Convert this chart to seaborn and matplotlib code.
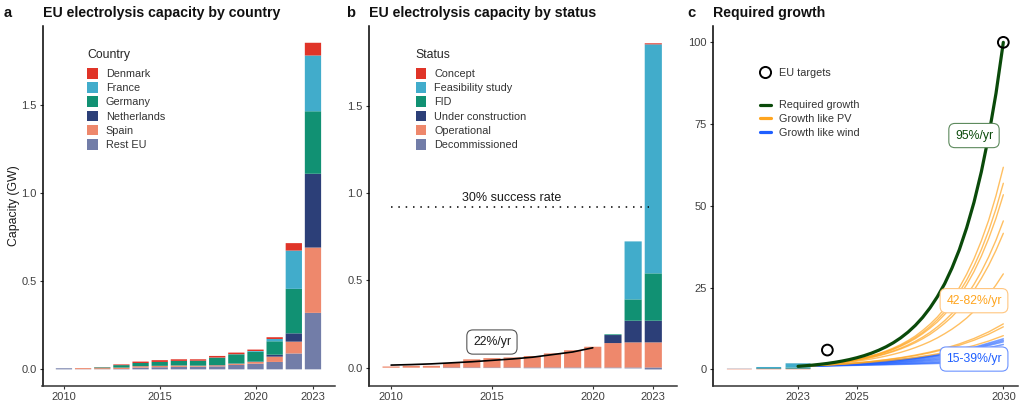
import matplotlib
matplotlib.use("Agg")
import matplotlib.pyplot as plt
import pandas as pd
import seaborn as sns
from matplotlib.lines import Line2D
from matplotlib.patches import Patch

years = list(range(2010, 2024))

# panel a, GW per year
denmark = [0, 0, 0.001, 0.004, 0.008, 0.01, 0.009, 0.008, 0.009, 0.009, 0.008, 0.01, 0.042, 0.072]
france = [0, 0, 0, 0, 0, 0, 0, 0, 0.001, 0.001, 0.004, 0.013, 0.217, 0.316]
germany = [0, 0, 0.004, 0.014, 0.018, 0.022, 0.026, 0.028, 0.042, 0.052, 0.056, 0.076, 0.252, 0.354]
netherlands = [0, 0, 0, 0, 0, 0, 0, 0, 0.001, 0.001, 0.002, 0.011, 0.047, 0.418]
spain = [0, 0.006, 0.006, 0.008, 0.008, 0.008, 0.008, 0.006, 0.006, 0.007, 0.01, 0.03, 0.067, 0.37]
rest_eu = [0.006, 0.001, 0.001, 0.002, 0.01, 0.012, 0.014, 0.015, 0.017, 0.025, 0.032, 0.042, 0.09, 0.32]

# panel b, GW per year
concept = [0, 0, 0, 0, 0, 0, 0, 0, 0, 0, 0, 0, 0, 0.006]
feasibility = [0, 0, 0, 0, 0, 0, 0, 0, 0, 0, 0, 0, 0.332, 1.311]
fid = [0, 0, 0, 0, 0, 0, 0, 0, 0, 0, 0, 0.004, 0.122, 0.271]
construction = [0, 0, 0, 0, 0, 0, 0, 0, 0, 0, 0, 0.046, 0.124, 0.124]
operational = [0.007, 0.011, 0.011, 0.027, 0.048, 0.055, 0.059, 0.067, 0.082, 0.1, 0.12, 0.141, 0.145, 0.145]
decommissioned = [0, 0, 0, -0.002, -0.002, -0.002, -0.002, -0.003, -0.003, -0.003, -0.003, -0.003, -0.004, -0.01]

fit_years = list(range(2010, 2021))
fit_values = [0.015, 0.018, 0.022, 0.028, 0.034, 0.042, 0.05, 0.06, 0.075, 0.09, 0.114]
success_years = [2010, 2022.8]
success_values = [0.922, 0.922]

# panel c
target_years = [2024, 2030]
target_values = [5.9, 100]
quarter_years = [2023 + i * 0.25 for i in range(29)]
half_years = [2023 + i * 0.5 for i in range(15)]
wind_years = list(range(2023, 2031))
required = [0.93, 1.1, 1.3, 1.54, 1.81, 2.14, 2.53, 2.99, 3.54, 4.18, 4.94, 5.84, 6.89, 8.14, 9.63, 11.38,
            13.45, 15.9, 18.8, 22.2, 26.2, 31.0, 36.6, 43.3, 51.1, 60.4, 71.4, 84.4, 100]
pv_fast = [
    [0.93, 1.08, 1.25, 1.45, 1.69, 1.96, 2.28, 2.65, 3.08, 3.57, 4.15, 4.82, 5.6, 6.51, 7.56, 8.78,
     10.2, 11.9, 13.8, 16.0, 18.6, 21.6, 25, 29.1, 33.8, 39.3, 45.6, 53.1, 61.8],
    [0.93, 1.08, 1.25, 1.45, 1.67, 1.94, 2.24, 2.6, 3.01, 3.49, 4.04, 4.68, 5.42, 6.28, 7.27, 8.42,
     9.76, 11.3, 13.1, 15.2, 17.6, 20.4, 23.6, 27.3, 31.6, 36.6, 42.4, 49.1, 56.9],
    [0.93, 1.07, 1.24, 1.43, 1.66, 1.92, 2.22, 2.56, 2.96, 3.42, 3.95, 4.56, 5.27, 6.09, 7.04, 8.14,
     9.4, 10.9, 12.6, 14.5, 16.8, 19.4, 22.4, 25.9, 29.9, 34.6, 40, 46.2, 53.4],
    [0.93, 1.07, 1.23, 1.41, 1.62, 1.86, 2.14, 2.46, 2.82, 3.24, 3.73, 4.28, 4.92, 5.65, 6.49, 7.46,
     8.57, 9.85, 11.3, 13.0, 14.9, 17.1, 19.7, 22.6, 26, 29.9, 34.4, 39.5, 45.4],
    [0.93, 1.07, 1.22, 1.4, 1.6, 1.83, 2.1, 2.41, 2.76, 3.16, 3.62, 4.15, 4.75, 5.44, 6.23, 7.14,
     8.17, 9.36, 10.7, 12.3, 14.1, 16.1, 18.5, 21.2, 24.2, 27.8, 31.8, 36.4, 41.6],
    [0.93, 1.05, 1.19, 1.35, 1.52, 1.72, 1.95, 2.2, 2.49, 2.82, 3.18, 3.6, 4.07, 4.6, 5.2, 5.88,
     6.66, 7.53, 8.5, 9.62, 10.9, 12.3, 13.9, 15.7, 17.8, 20.1, 22.8, 25.8, 29.2],
]
pv_slow = [
    [0.93, 1.13, 1.37, 1.66, 2.01, 2.44, 2.96, 3.59, 4.36, 5.29, 6.41, 7.78, 9.44, 11.45, 13.9],
    [0.93, 1.12, 1.35, 1.63, 1.97, 2.38, 2.88, 3.47, 4.19, 5.06, 6.1, 7.37, 8.9, 10.75, 13.0],
    [0.93, 1.1, 1.31, 1.56, 1.85, 2.19, 2.6, 3.09, 3.67, 4.36, 5.17, 6.14, 7.29, 8.65, 10.3],
]
wind_lines = [
    [0.93, 1.29, 1.8, 2.5, 3.47, 4.83, 6.71, 9.33],
    [0.93, 1.28, 1.77, 2.44, 3.37, 4.65, 6.42, 8.86],
    [0.93, 1.27, 1.75, 2.39, 3.28, 4.49, 6.15, 8.42],
    [0.93, 1.26, 1.69, 2.29, 3.09, 4.17, 5.63, 7.6],
    [0.93, 1.23, 1.62, 2.14, 2.82, 3.73, 4.92, 6.5],
    [0.93, 1.2, 1.55, 2.0, 2.58, 3.32, 4.29, 5.53],
    [0.93, 1.17, 1.48, 1.86, 2.34, 2.95, 3.72, 4.69],
    [0.93, 1.13, 1.38, 1.69, 2.06, 2.51, 3.06, 3.74],
    [0.93, 1.1, 1.29, 1.53, 1.8, 2.13, 2.51, 2.96],
    [0.93, 1.07, 1.23, 1.41, 1.63, 1.87, 2.15, 2.47],
]

colors = ["#E03428", "#41ACCB", "#119173", "#2C3F78", "#EE886C", "#727DA8"]
dark_green = "#0A4A0A"
orange = "#FFA51F"
blue = "#1F5FFF"
grey_text = "#333333"
W, H = 1024, 409


def stack_table(series):
    frames = [pd.DataFrame({"year": years, "group": k, "value": v}) for k, v in series.items()]
    return pd.concat(frames, ignore_index=True)


def lines_table(xs, lines):
    frames = [pd.DataFrame({"year": xs, "value": v, "line": i}) for i, v in enumerate(lines)]
    return pd.concat(frames, ignore_index=True)


def stacked_bars(ax, df, names):
    sns.histplot(data=df, x="year", weights="value", hue="group", hue_order=names,
                 palette=dict(zip(names, colors)), multiple="stack", discrete=True, shrink=0.85,
                 alpha=1, linewidth=0, legend=False, ax=ax)


def make_axes(left, right):
    top, bottom = 26, 385.7
    return fig.add_axes([left / W, (H - bottom) / H, (right - left) / W, (bottom - top) / H])


def style_axes(ax, xticks, yticks, xlim, ylim, fmt):
    ax.set_xlim(*xlim)
    ax.set_ylim(*ylim)
    ax.set_xticks(xticks)
    ax.set_yticks(yticks)
    ax.set_yticklabels([fmt.format(t) for t in yticks])
    ax.set_xlabel("")
    ax.set_ylabel("")
    ax.tick_params(length=2.4, width=0.8, labelsize=8, labelcolor="#404040", color="#333333", pad=2)
    ax.spines["left"].set_linewidth(1.1)
    ax.spines["left"].set_color("black")
    ax.spines["bottom"].set_linewidth(1.1)
    ax.spines["bottom"].set_color("#333333")
    # small stack segments should blend like in the source, not snap to whole pixels
    for p in ax.patches:
        p.set_snap(False)


def bar_legend(ax, title, names, px, py):
    x0 = ax.get_position().x0 * W
    width = ax.get_position().width * W
    handles = [Patch(facecolor=c, edgecolor="none", label=n) for c, n in zip(colors, names)]
    leg = ax.legend(handles=handles, title=title, loc="upper left", frameon=False,
                    bbox_to_anchor=((px - x0) / width, 1 - (py - 26) / 359.7),
                    fontsize=7.8, title_fontsize=8.8, labelspacing=0.29, handlelength=1.0,
                    handleheight=1.15, handletextpad=0.74, borderpad=0, borderaxespad=0,
                    alignment="left")
    leg._legend_box.sep = 5
    for t in leg.get_texts():
        t.set_color(grey_text)


def add_label(ax, x, y, text, color, edge):
    ax.text(x, y, text, color=color, fontsize=8.8, ha="center", va="center", zorder=6,
            bbox=dict(boxstyle="round,pad=0.5", facecolor="white", edgecolor=edge, linewidth=0.8))


sns.set_theme(style="ticks")
plt.rcParams["font.family"] = ["Liberation Sans", "DejaVu Sans"]
fig = plt.figure(figsize=(W / 100, H / 100), dpi=100)

country_names = ["Denmark", "France", "Germany", "Netherlands", "Spain", "Rest EU"]
status_names = ["Concept", "Feasibility study", "FID", "Under construction", "Operational", "Decommissioned"]
df_country = stack_table(dict(zip(country_names, [denmark, france, germany, netherlands, spain, rest_eu])))
df_status = stack_table(dict(zip(status_names, [concept, feasibility, fid, construction, operational])))
df_decom = stack_table({"Decommissioned": decommissioned})

# a
ax_a = make_axes(42.5, 335)
stacked_bars(ax_a, df_country, country_names)
style_axes(ax_a, [2010, 2015, 2020, 2023], [0, 0.5, 1.0, 1.5], (2008.88, 2024.15), (-0.0926, 1.945), "{:.1f}")
bar_legend(ax_a, "Country", country_names, 87, 49)

# b
ax_b = make_axes(368.7, 676.7)
stacked_bars(ax_b, df_status, status_names)
sns.histplot(data=df_decom, x="year", weights="value", discrete=True, shrink=0.85, color=colors[5],
             alpha=1, linewidth=0, ax=ax_b)
sns.lineplot(x=fit_years, y=fit_values, color="black", linewidth=1.2, ax=ax_b)
sns.lineplot(x=success_years, y=success_values, color="black", linewidth=1.1, linestyle=(0, (1, 3.8)), ax=ax_b)
ax_b.text(2016, 0.972, "30% success rate", fontsize=9, ha="center", va="center", color="#1a1a1a")
add_label(ax_b, 2015, 0.147, "22%/yr", "#1a1a1a", "#555555")
style_axes(ax_b, [2010, 2015, 2020, 2023], [0, 0.5, 1.0, 1.5], (2008.89, 2024.16), (-0.103, 1.956), "{:.1f}")
bar_legend(ax_b, "Status", status_names, 415.5, 49)

# c
ax_c = make_axes(712.7, 1017.7)
stacked_bars(ax_c, df_status[df_status["year"] >= 2021], status_names)
sns.lineplot(data=lines_table(wind_years, wind_lines), x="year", y="value", units="line", estimator=None,
             color=blue, alpha=0.6, linewidth=1.1, ax=ax_c)
sns.lineplot(data=lines_table(quarter_years, pv_fast), x="year", y="value", units="line", estimator=None,
             color=orange, alpha=0.7, linewidth=1.0, ax=ax_c)
sns.lineplot(data=lines_table(half_years, pv_slow), x="year", y="value", units="line", estimator=None,
             color=orange, alpha=0.7, linewidth=1.0, ax=ax_c)
sns.lineplot(x=quarter_years, y=required, color=dark_green, linewidth=2.3, ax=ax_c)
sns.scatterplot(x=target_years, y=target_values, s=60, facecolor="none", edgecolor="black", linewidth=1.4,
                zorder=5, clip_on=False, ax=ax_c)
add_label(ax_c, 2029, 71.5, "95%/yr", dark_green, "#5d8a5d")
add_label(ax_c, 2029, 21, "42-82%/yr", orange, "#FFC680")
add_label(ax_c, 2029, 3.15, "15-39%/yr", blue, "#6c93ff")
style_axes(ax_c, [2023, 2025, 2030], [0, 25, 50, 75, 100], (2020.09, 2030.49), (-5, 105), "{:.0f}")

width_c = 305
target_handle = Line2D([], [], linestyle="none", marker="o", markersize=8, markerfacecolor="none",
                       markeredgecolor="black", markeredgewidth=1.4, label="EU targets")
leg_t = ax_c.legend(handles=[target_handle], loc="upper left", frameon=False, fontsize=7.8, borderpad=0,
                    borderaxespad=0, handlelength=1.0, handletextpad=0.74,
                    bbox_to_anchor=((760 - 712.7) / width_c, 1 - (67.5 - 26) / 359.7))
ax_c.add_artist(leg_t)
line_handles = [Line2D([], [], color=dark_green, linewidth=2.3, label="Required growth"),
                Line2D([], [], color=orange, linewidth=2.3, label="Growth like PV"),
                Line2D([], [], color=blue, linewidth=2.3, label="Growth like wind")]
leg_l = ax_c.legend(handles=line_handles, loc="upper left", frameon=False, fontsize=7.8, borderpad=0,
                    borderaxespad=0, labelspacing=0.34, handlelength=1.0, handletextpad=0.74,
                    bbox_to_anchor=((760 - 712.7) / width_c, 1 - (100.5 - 26) / 359.7))
for t in leg_t.get_texts() + leg_l.get_texts():
    t.set_color(grey_text)

sns.despine(fig=fig)

fig.text(14 / W, 1 - 206 / H, "Capacity (GW)", rotation=90, fontsize=8.8, ha="center", va="center", color="#1a1a1a")
for tag, tag_x, title, title_x in [("a", 4, "EU electrolysis capacity by country", 43),
                                   ("b", 346, "EU electrolysis capacity by status", 369),
                                   ("c", 687, "Required growth", 713)]:
    fig.text(tag_x / W, 1 - 13 / H, tag, fontsize=10.6, fontweight="bold", ha="left", va="center", color="#111111")
    fig.text(title_x / W, 1 - 13 / H, title, fontsize=10.2, fontweight="bold", ha="left", va="center", color="#111111")

fig.savefig("out.png", dpi=100)
